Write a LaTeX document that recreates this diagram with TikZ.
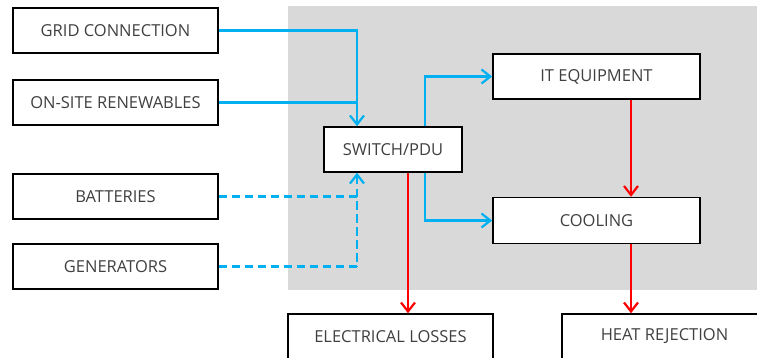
\documentclass[tikz,border=0pt]{standalone}
\usepackage{fontspec}
\setmainfont{Open Sans}
\usetikzlibrary{arrows.meta,positioning,calc}
\definecolor{feed}{HTML}{00B0F0}
\definecolor{loss}{HTML}{FF0000}
\definecolor{zone}{HTML}{D9D9D9}
\definecolor{label}{HTML}{404040}

\begin{document}
\begin{tikzpicture}[x=1pt,y=-1pt,
    block/.style={draw, fill=white, line width=1.5pt, minimum width=205pt,
        minimum height=45pt, inner sep=0pt, text=label,
        font=\fontsize{16.5}{19}\selectfont},
    power/.style={feed, line width=2.2pt},
    backup/.style={power, dash pattern=on 8pt off 5pt},
    waste/.style={loss, line width=2.2pt},
    arr/.style={-{Straight Barb[length=9pt,width=14pt]}}]
    \useasboundingbox (0,0) rectangle (757,357);
    \clip (0,0) rectangle (757,357);

    % Facility boundary
    \fill[zone] (288,6) rectangle (757,290);

    % Supplies
    \node[block] (grid) at (115.5,30.5) {GRID CONNECTION};
    \node[block] (renew) at (115.5,102.5) {ON-SITE RENEWABLES};
    \node[block] (batt) at (115.5,196.5) {BATTERIES};
    \node[block] (gen) at (115.5,266.5) {GENERATORS};

    % Inside the facility
    \node[block, minimum width=138pt] (pdu) at (393,149.5) {SWITCH/PDU};
    \node[block, minimum width=207pt] (it) at (596.5,76.5) {IT EQUIPMENT};
    \node[block, minimum width=207pt, minimum height=46pt] (cool) at (596.5,220.5) {COOLING};

    % Outputs
    \node[block] (losses) at (390.5,336.5) {ELECTRICAL LOSSES};
    \node[block] (heat) at (664.5,336.5) {HEAT REJECTION};

    \coordinate (pdu-in) at ([xshift=-36pt]pdu.north);
    \coordinate (pdu-bk) at ([xshift=-36pt]pdu.south);
    \coordinate (pdu-top) at ([xshift=32pt]pdu.north);
    \coordinate (pdu-bot) at ([xshift=32pt]pdu.south);
    \coordinate (pdu-loss) at ([xshift=15pt]pdu.south);
    \coordinate (it-loss) at ([xshift=34.5pt]it.south);
    \coordinate (cool-loss) at ([xshift=34.5pt]cool.south);

    % Power feeds
    \draw[power, arr] (grid.east) -| (pdu-in);
    \draw[power] (renew.east) -- (renew.east -| pdu-in);
    \draw[backup] (batt.east) -| (gen.east -| pdu-bk);
    \draw[backup, arr] (gen.east) -| (pdu-bk);
    \draw[power, arr] (pdu-top) |- (it.west);
    \draw[power, arr] (pdu-bot) |- (cool.west);

    % Losses
    \draw[waste, arr] (pdu-loss) -- (losses.north -| pdu-loss);
    \draw[waste, arr] (it-loss) -- (cool.north -| it-loss);
    \draw[waste, arr] (cool-loss) -- (heat.north -| cool-loss);
\end{tikzpicture}
\end{document}
